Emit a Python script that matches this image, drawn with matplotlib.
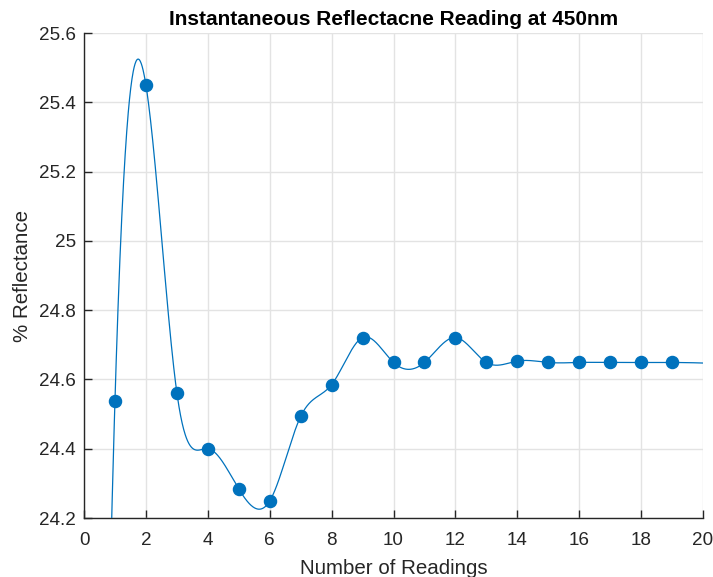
import numpy as np
import matplotlib
matplotlib.use("Agg")
import matplotlib.pyplot as plt

# Reflectance readings at 450 nm
readings = np.arange(1, 20)
reflectance = [24.538, 25.450, 24.562, 24.400, 24.284, 24.249, 24.493, 24.585,
               24.721, 24.649, 24.649, 24.721, 24.649, 24.653, 24.649, 24.649,
               24.649, 24.649, 24.649]

x_ticks = list(range(0, 21, 2))
y_ticks = [24.2, 24.4, 24.6, 24.8, 25.0, 25.2, 25.4, 25.6]
y_tick_labels = ["24.2", "24.4", "24.6", "24.8", "25", "25.2", "25.4", "25.6"]

COLOR = "#0072BD"
AXCOL = "#262626"


def not_a_knot_spline(x, y, xq):
    """Cubic spline with not-a-knot end conditions, extrapolating the end pieces."""
    x = np.asarray(x, float)
    y = np.asarray(y, float)
    n = len(x)
    h = np.diff(x)
    A = np.zeros((n, n))
    r = np.zeros(n)
    for i in range(1, n - 1):
        A[i, i - 1] = h[i - 1]
        A[i, i] = 2 * (h[i - 1] + h[i])
        A[i, i + 1] = h[i]
        r[i] = 6 * ((y[i + 1] - y[i]) / h[i] - (y[i] - y[i - 1]) / h[i - 1])
    # continuity of the third derivative at the second and second-to-last knots
    A[0, 0], A[0, 1], A[0, 2] = h[1], -(h[0] + h[1]), h[0]
    A[-1, -3], A[-1, -2], A[-1, -1] = h[-1], -(h[-2] + h[-1]), h[-2]
    M = np.linalg.solve(A, r)
    idx = np.clip(np.searchsorted(x, xq) - 1, 0, n - 2)
    t = xq - x[idx]
    hi = h[idx]
    b = (y[idx + 1] - y[idx]) / hi - hi * (2 * M[idx] + M[idx + 1]) / 6
    return y[idx] + b * t + M[idx] / 2 * t ** 2 + (M[idx + 1] - M[idx]) / (6 * hi) * t ** 3


xs = np.linspace(0, 20, 2001)
ys = not_a_knot_spline(readings, reflectance, xs)

plt.rcParams["font.family"] = ["Liberation Sans", "DejaVu Sans"]

fig = plt.figure(figsize=(7.13, 5.77), dpi=100)
ax = fig.add_axes([84 / 713, 1 - 518 / 577, (703 - 84) / 713, (518 - 33) / 577])

ax.plot(xs, ys, color=COLOR, lw=0.9, zorder=3)
ax.plot(readings, reflectance, "o", color=COLOR, ms=8.7, zorder=4)

ax.set_xlim(0, 20)
ax.set_ylim(24.2, 25.6)
ax.set_xticks(x_ticks)
ax.set_yticks(y_ticks)
ax.set_yticklabels(y_tick_labels)

ax.grid(True, color="#e3e3e3", lw=1.0, zorder=0)
ax.set_axisbelow(True)
for s in ("top", "right"):
    ax.spines[s].set_visible(False)
for s in ("left", "bottom"):
    ax.spines[s].set_color(AXCOL)
    ax.spines[s].set_linewidth(1.0)
ax.tick_params(direction="in", length=6, width=1.0, colors=AXCOL,
               labelsize=13.6)
ax.tick_params(axis="x", pad=10)
ax.tick_params(axis="y", pad=6)

ax.set_xlabel("Number of Readings", fontsize=14.8, color=AXCOL, labelpad=7)
ax.set_ylabel("% Reflectance", fontsize=14.8, color=AXCOL, labelpad=5)
ax.set_title("Instantaneous Reflectacne Reading at 450nm", fontsize=15,
             fontweight="bold", color="black", pad=6)

fig.savefig("out.png", dpi=100)
